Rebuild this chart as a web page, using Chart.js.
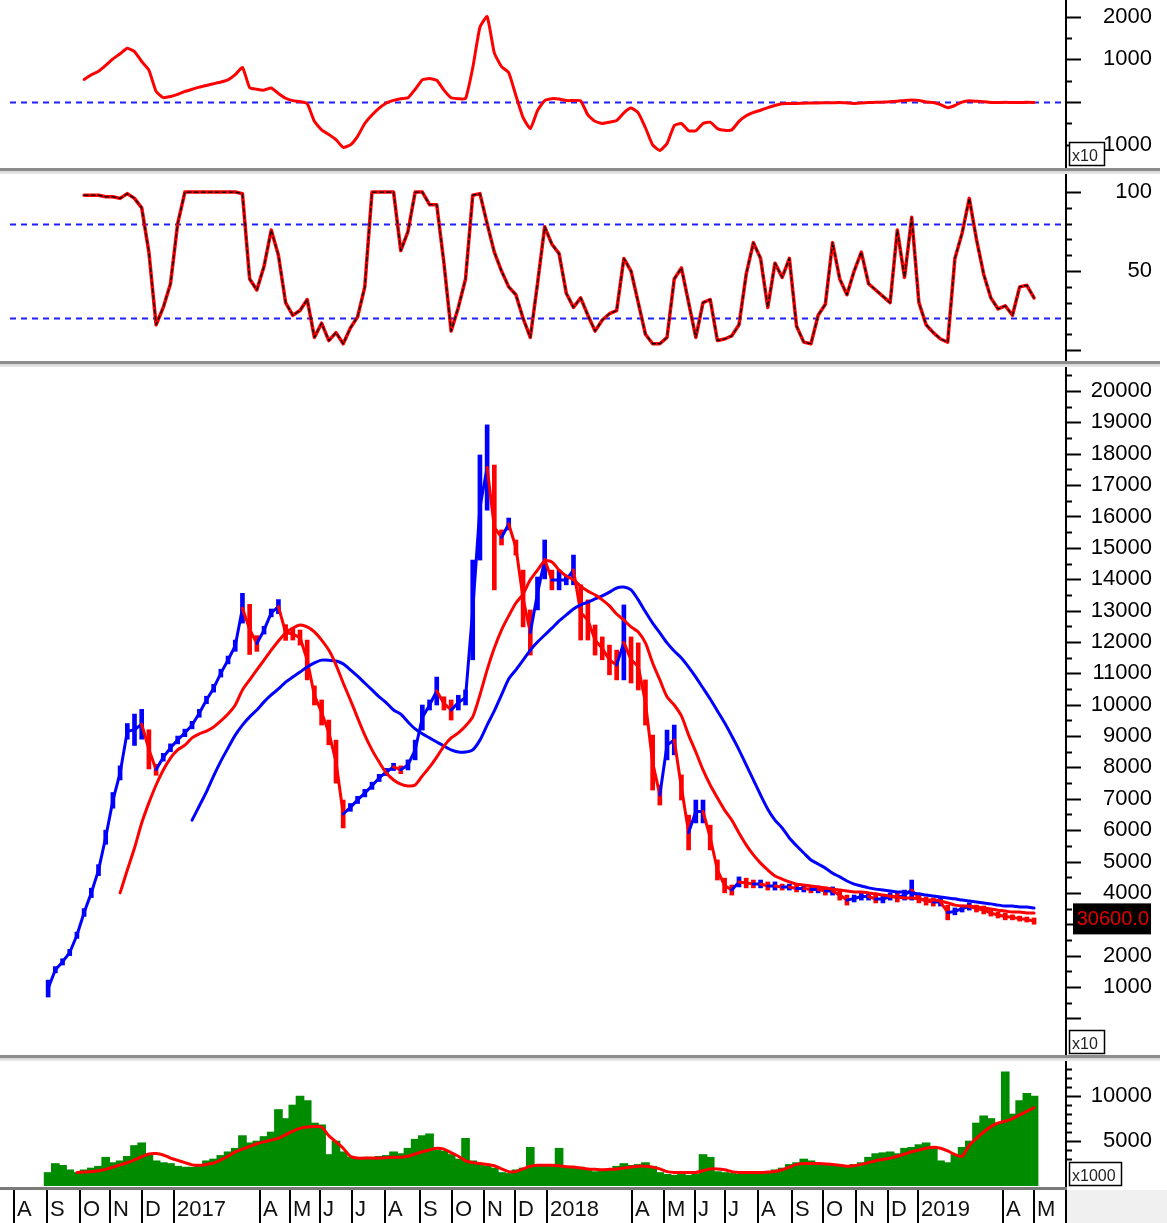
<!DOCTYPE html>
<html>
<head>
<meta charset="utf-8">
<script src="https://cdn.jsdelivr.net/npm/chart.js@4.4.0/dist/chart.umd.min.js"></script>
<style>
  body { margin: 0; background: #fff; }
  #wrap { position: relative; width: 1167px; height: 1223px; overflow: hidden; background: #fff; }
  #wrap canvas { position: absolute; left: 0; }
  .sep { position: absolute; left: 0; width: 1160px; height: 6px; z-index: 5;
         background: linear-gradient(#8c8c8c 0, #8c8c8c 3px, #d4d4d4 3px, #ececec 6px); }
</style>
</head>
<body>
<div id="wrap">
  <canvas id="c-osc" width="1167" height="168" style="top:0"></canvas>
  <div class="sep" style="top:168px"></div>
  <canvas id="c-rsi" width="1167" height="188" style="top:174px"></canvas>
  <div class="sep" style="top:361px"></div>
  <canvas id="c-price" width="1167" height="689" style="top:367px"></canvas>
  <div class="sep" style="top:1055px"></div>
  <canvas id="c-vol" width="1167" height="162" style="top:1061px"></canvas>
</div>
<script>
/* ── data (weekly, x = trading week from Aug 2016) ── */
const monthLabels = ['A','S','O','N','D','2017','A','M','J','J','A','S','O','N','D','2018',
                     'A','M','J','J','A','S','O','N','D','2019','A','M'];
const monthStarts = [0.1, 4.7, 9.3, 13.5, 17.9, 22.4, 34.3, 38.5, 42.6, 47.1, 51.7, 56.5, 61.0, 65.4,
                     69.7, 74.2, 86.0, 90.4, 94.7, 98.9, 103.5, 108.2, 112.6, 117.1, 121.5, 125.7, 137.6, 141.8];

// price, x10 units
const priceStart = 5;
const priceLow = [
  680, 1450, 1700, 2000, 2550, 3250, 3850, 4550, 5550, 6700,
  7600, 8900, 8700, 8900, 7950, 7750, 8200, 8500, 8750, 8980,
  9230, 9600, 10030, 10400, 10880, 11300, 11700, 12600, 11600, 11700,
  12250, 12800, 12900, 12050, 12060, 11900, 10790, 9990, 9350, 8720,
  7500, 6070, 6600, 6850, 7060, 7300, 7550, 7740, 7900, 7800,
  7920, 8240, 9190, 9830, 9990, 9830, 9510, 9830, 9990, 11430,
  14610, 16200, 13660, 15090, 15570, 14770, 12480, 11580, 13020, 14010,
  13660, 13660, 13820, 13820, 12060, 12060, 11580, 11430, 10950, 10790,
  10790, 10690, 10470, 9350, 7280, 6800, 8240, 8400, 6960, 5370,
  6230, 6230, 5370, 4410, 4000, 3930, 4190, 4160, 4160, 4160,
  4090, 4090, 4090, 4090, 4030, 4030, 4000, 4000, 3930, 3930,
  3770, 3610, 3710, 3770, 3770, 3680, 3680, 3770, 3710, 3770,
  3770, 3680, 3610, 3580, 3580, 3140, 3300, 3390, 3450, 3390,
  3330, 3260, 3200, 3140, 3140, 3100, 3070, 3000
];
const priceHigh = [
  1220, 1650, 1900, 2200, 2750, 3500, 4150, 4900, 6000, 7200,
  8050, 9400, 9700, 9850, 9200, 8100, 8450, 8750, 9000, 9220,
  9470, 9850, 10270, 10650, 11130, 11550, 12060, 13550, 13200, 12200,
  12500, 13050, 13350, 12550, 12440, 12380, 12060, 10600, 10150, 9510,
  8870, 6960, 6850, 7080, 7300, 7530, 7780, 7970, 8130, 8050,
  8240, 8870, 9990, 10150, 10880, 10250, 10150, 10300, 10470, 14610,
  17960, 18920, 17640, 15570, 15950, 15250, 14290, 13020, 14070, 15250,
  14290, 14290, 14130, 14770, 13820, 13340, 12540, 12160, 11900, 11740,
  13180, 12160, 11970, 10790, 9030, 7440, 9190, 9350, 7760, 6480,
  6960, 6960, 6160, 5050, 4470, 4250, 4510, 4470, 4410, 4410,
  4350, 4350, 4280, 4280, 4250, 4250, 4220, 4220, 4190, 4190,
  4090, 3930, 3930, 4000, 4000, 3930, 3930, 4000, 4000, 4090,
  4410, 3970, 3870, 3840, 3840, 3610, 3520, 3610, 3680, 3610,
  3580, 3450, 3390, 3360, 3300, 3260, 3230, 3200
];
const lastPrice = 3060;

const maFastStart = 15;
const maFast = [
  4000, 4730, 5430, 6230, 6870, 7440, 7920, 8300, 8560, 8710,
  8940, 9070, 9160, 9290, 9480, 9700, 9990, 10470, 10790, 11110,
  11420, 11740, 12030, 12290, 12440, 12540, 12480, 12320, 12060, 11740,
  11270, 10690, 10150, 9580, 9030, 8560, 8170, 7820, 7600, 7470,
  7410, 7440, 7730, 8010, 8330, 8680, 8940, 9100, 9320, 9610,
  10310, 11110, 11810, 12380, 12830, 13240, 13530, 13980, 14290, 14580,
  14550, 14290, 14100, 13980, 13780, 13620, 13500, 13340, 13150, 12890,
  12700, 12480, 12320, 11970, 11330, 10790, 10250, 9990, 9640, 9030,
  8490, 7920, 7440, 7030, 6640, 6320, 5910, 5530, 5210, 4950,
  4730, 4540, 4440, 4350, 4280, 4250, 4220, 4190, 4160, 4120,
  4090, 4060, 4030, 4030, 4000, 3970, 3930, 3900, 3870, 3840,
  3840, 3810, 3770, 3770, 3740, 3680, 3610, 3580, 3580, 3550,
  3520, 3490, 3450, 3420, 3390, 3390, 3360, 3360
];
const maSlowStart = 25;
const maSlow = [
  6320, 6770, 7220, 7730, 8200, 8620, 9030, 9350, 9610, 9830,
  10090, 10310, 10500, 10720, 10880, 11040, 11200, 11330, 11420, 11420,
  11390, 11300, 11110, 10910, 10690, 10470, 10250, 10060, 9830, 9700,
  9450, 9230, 9070, 8940, 8810, 8680, 8560, 8490, 8490, 8560,
  8870, 9350, 9800, 10310, 10820, 11110, 11420, 11740, 12000, 12220,
  12440, 12670, 12860, 13050, 13180, 13270, 13370, 13470, 13590, 13720,
  13750, 13660, 13340, 12960, 12600, 12290, 11970, 11710, 11490, 11200,
  10880, 10530, 10180, 9800, 9420, 9000, 8560, 8080, 7600, 7120,
  6670, 6320, 6070, 5750, 5500, 5270, 5050, 4920, 4790, 4630,
  4510, 4380, 4280, 4220, 4160, 4120, 4090, 4060, 4030, 4030,
  4000, 3970, 3930, 3900, 3870, 3840, 3810, 3770, 3740, 3710,
  3680, 3650, 3610, 3580, 3580, 3550, 3550, 3520
];

// top oscillator (x10 units)
const oscStart = 10;
const oscValues = [
  530, 640, 720, 860, 1010, 1130, 1260, 1180, 950, 750,
  250, 105, 130, 180, 250, 300, 350, 390, 430, 470,
  520, 640, 810, 340, 300, 280, 330, 200, 90, 35,
  10, -35, -450, -650, -760, -880, -1060, -1000, -800, -500,
  -300, -140, -20, 40, 80, 100, 300, 520, 550, 510,
  280, 100, 80, 80, 800, 1750, 2000, 1150, 830, 690,
  150, -365, -620, -200, 35, 80, 70, 35, 35, 30,
  -300, -450, -500, -470, -430, -250, -140, -250, -600, -1000,
  -1130, -970, -550, -500, -670, -670, -500, -470, -620, -660,
  -650, -450, -320, -240, -190, -130, -80, -40, -35, -30,
  -25, -20, -20, -15, -15, -10, -20, -30, -20, -10,
  -5, 0, 10, 20, 40, 50, 40, 0, -10, -60,
  -130, -80, 0, 30, 20, 10, -10, -10, -5, -10,
  -10, -5, -10
];
const oscLevels = [0];

// middle oscillator 0-100
const rsiStart = 10;
const rsiValues = [
  98, 98, 98, 97, 97, 96, 99, 96, 90, 62,
  16, 27, 42, 80, 100, 100, 100, 100, 100, 100,
  100, 100, 99, 45, 38, 53, 76, 60, 30, 22,
  25, 32, 8, 17, 6, 11, 4, 14, 21, 40,
  100, 100, 100, 100, 63, 75, 100, 100, 92, 92,
  55, 12, 27, 45, 98, 99, 80, 62, 50, 40,
  35, 20, 8, 42, 78, 67, 61, 36, 27, 33,
  22, 12, 19, 23, 25, 58, 50, 30, 10, 4,
  4, 8, 45, 52, 30, 8, 30, 32, 6, 7,
  9, 16, 48, 68, 58, 27, 55, 46, 58, 15,
  5, 4, 22, 29, 68, 45, 35, 50, 62, 42,
  38, 34, 30, 76, 46, 84, 30, 16, 11, 7,
  5, 58, 74, 96, 70, 48, 33, 26, 28, 22,
  40, 41, 33
];
const rsiLevels = [80, 20];

// volume, x1000 units
const volStart = 5;
const volValues = [
  1500, 2500, 2300, 1800, 1500, 1800, 2000, 2200, 3200, 2600,
  2800, 3300, 4500, 4800, 3600, 2800, 2600, 2500, 2200, 2100,
  2100, 2400, 2800, 3000, 3400, 3800, 4200, 5600, 4800, 5000,
  5500, 6000, 8500, 7500, 9000, 10000, 9500, 7000, 6800, 3500,
  5000, 3800, 3200, 3100, 3200, 3000, 3300, 3400, 3800, 3600,
  4200, 5200, 5600, 5800, 4000, 3900, 3500, 3000, 5300, 2800,
  2500, 2200, 2000, 1500, 1400, 1800, 2000, 4300, 2300, 2400,
  2200, 4200, 2200, 2000, 2100, 1800, 1600, 1800, 1900, 2200,
  2500, 2300, 2400, 2600, 2200, 1500, 1300, 1200, 1300, 1200,
  1300, 3500, 3200, 1600, 1500, 1400, 1300, 1300, 1300, 1400,
  1600, 1800, 2000, 2400, 2600, 3000, 2800, 2500, 2400, 2300,
  2200, 2300, 2400, 2600, 3200, 3600, 3700, 3800, 3600, 4200,
  4300, 4600, 4800, 4200, 2800, 2600, 3500, 4300, 5000, 7000,
  7800, 7500, 7000, 12700, 8000, 9500, 10300, 10000
];
const volMaStart = 9;
const volMa = [
  1500, 1550, 1600, 1700, 1850, 2100, 2350, 2600, 2900, 3250,
  3550, 3600, 3450, 3100, 2850, 2600, 2350, 2300, 2400, 2550,
  2900, 3300, 3800, 4100, 4400, 4700, 4900, 5100, 5300, 5700,
  6100, 6400, 6550, 6600, 6550, 5600, 4900, 4200, 3300, 3100,
  3100, 3100, 3100, 3150, 3200, 3200, 3300, 3550, 3800, 4000,
  4200, 4100, 3700, 3300, 2800, 2600, 2500, 2400, 2250, 1900,
  1600, 1600, 1900, 2200, 2300, 2300, 2300, 2250, 2150, 2100,
  2000, 1900, 1850, 1800, 1850, 1900, 2000, 2100, 2200, 2200,
  2100, 1900, 1600, 1500, 1500, 1500, 1500, 1700, 1900, 1900,
  1800, 1600, 1500, 1500, 1500, 1500, 1550, 1600, 1800, 2100,
  2400, 2500, 2500, 2500, 2450, 2400, 2300, 2200, 2250, 2400,
  2600, 2800, 2950, 3100, 3300, 3550, 3800, 4000, 4200, 4300,
  4200, 3900, 3500, 3300, 4500, 5300, 6000, 6600, 7000, 7200,
  7500, 7900, 8300, 8700
];

/* ── styling ── */
const FONT = '"Liberation Sans", Arial, Helvetica, sans-serif';
const RED = '#ff0000', BLUE = '#0000ff', GREEN = '#008c00';
const X_MIN = -0.3, X_MAX = 146.3;

const pts = (vals, start) => vals.map((v, i) => ({ x: start + i, y: v }));
const range = (a, b, step) => { const r = []; for (let v = a; v <= b + 1e-9; v += step) r.push(v); return r; };

const xAxis = { type: 'linear', min: X_MIN, max: X_MAX, offset: false, display: false, grid: { offset: false } };

function yAxis(min, max, tickVals, label, pad) {
  return {
    position: 'right', min, max, bounds: 'data',
    grid: { display: false, drawTicks: false }, border: { display: false },
    afterBuildTicks: s => { s.ticks = tickVals.map(v => ({ value: v })); },
    afterFit: s => { s.width = 87; s.paddingTop = 0; s.paddingBottom = 0; },
    ticks: { autoSkip: false, crossAlign: 'far', padding: pad, color: '#000',
             font: { family: FONT, size: 22 }, callback: label }
  };
}

// axis line, tick marks, dashed levels, unit box
const deco = {
  id: 'deco',
  beforeDatasetsDraw(chart, args, o) {
    const { ctx, chartArea: a, scales: { y } } = chart;
    (o.levels || []).forEach(v => {
      const py = Math.round(y.getPixelForValue(v)) + 0.5;
      ctx.save();
      ctx.strokeStyle = '#1e1eff'; ctx.lineWidth = 2; ctx.setLineDash([6, 5]);
      ctx.beginPath(); ctx.moveTo(a.left, py); ctx.lineTo(a.right, py); ctx.stroke();
      ctx.restore();
    });
  },
  afterDraw(chart, args, o) {
    const { ctx, chartArea: a, scales: { y } } = chart;
    const ax = a.right + 1;
    ctx.save();
    ctx.strokeStyle = '#000'; ctx.lineWidth = 2;
    ctx.beginPath(); ctx.moveTo(ax, 0); ctx.lineTo(ax, chart.height); ctx.stroke();
    y.ticks.forEach(t => {
      const py = Math.round(y.getPixelForValue(t.value)) + 0.5;
      ctx.beginPath(); ctx.moveTo(ax, py); ctx.lineTo(ax + (o.major(t.value) ? 15 : 6), py); ctx.stroke();
    });
    if (o.last != null) {
      const py = y.getPixelForValue(o.last);
      ctx.fillStyle = '#000'; ctx.fillRect(a.right + 8, py - 19, 78, 31);
      ctx.fillStyle = '#e00000'; ctx.font = `20px ${FONT}`;
      ctx.textAlign = 'right'; ctx.textBaseline = 'middle';
      ctx.fillText((o.last * 10).toFixed(1), a.right + 84, py - 3);
    }
    if (o.unit) {
      const w = o.unit.length > 3 ? 52 : 35, b = Math.min(a.bottom, chart.height - 2);
      ctx.fillStyle = '#fff'; ctx.fillRect(ax + 3, b - 23, w, 23);
      ctx.lineWidth = 1.5; ctx.strokeRect(ax + 3.5, b - 23.5, w, 23);
      ctx.fillStyle = '#222'; ctx.font = `16px ${FONT}`;
      ctx.textAlign = 'left'; ctx.textBaseline = 'alphabetic';
      ctx.fillText(o.unit, ax + 6, b - 5);
    }
    ctx.restore();
  }
};

// month strip under the volume panel
const monthStrip = {
  id: 'monthStrip',
  afterDraw(chart) {
    const { ctx, chartArea: a, scales: { x } } = chart;
    const top = a.bottom + 1;
    ctx.save();
    ctx.fillStyle = '#f0f0f0'; ctx.fillRect(a.right + 2, top + 3, chart.width - a.right, chart.height - top);
    ctx.fillStyle = '#7a7a7a'; ctx.fillRect(0, top, a.right + 2, 3);
    ctx.font = `22px ${FONT}`; ctx.textBaseline = 'alphabetic';
    monthStarts.forEach((m, i) => {
      const px = Math.round(x.getPixelForValue(m));
      ctx.fillStyle = '#000'; ctx.fillRect(px, top + 3, 2, chart.height - top);
      ctx.fillStyle = '#111'; ctx.fillText(monthLabels[i], px + 4, chart.height - 7);
    });
    ctx.restore();
  }
};

const base = (pad, extra) => Object.assign({
  responsive: false, animation: false, events: [],
  layout: { padding: Object.assign({ left: 10, right: 15 }, pad) },
  plugins: { legend: { display: false }, tooltip: { enabled: false } },
  elements: { point: { radius: 0 }, line: { tension: 0.25, borderJoinStyle: 'round', borderCapStyle: 'round' } }
}, extra);

/* ── panel 1: oscillator ── */
new Chart(document.getElementById('c-osc'), {
  type: 'line',
  data: { datasets: [
    { data: pts(oscValues, oscStart), borderColor: RED, borderWidth: 3, tension: 0.15 }
  ] },
  options: base({ top: 2, bottom: 1 }, {
    scales: {
      x: xAxis,
      y: yAxis(-1518, 2341, range(-1000, 2000, 500),
               v => (v !== 0 && v % 1000 === 0) ? String(Math.abs(v)) : '', 36)
    },
    plugins: { legend: { display: false }, tooltip: { enabled: false },
               deco: { levels: oscLevels, major: v => v % 1000 === 0, unit: 'x10' } }
  }),
  plugins: [deco]
});

/* ── panel 2: 0-100 oscillator ── */
new Chart(document.getElementById('c-rsi'), {
  type: 'line',
  data: { datasets: [
    { data: pts(rsiValues, rsiStart), borderColor: '#000', borderWidth: 1.3, borderDash: [4, 3], tension: 0 },
    { data: pts(rsiValues, rsiStart), borderColor: RED, borderWidth: 3.5, tension: 0 }
  ] },
  options: base({ top: 1, bottom: 2 }, {
    scales: {
      x: xAxis,
      y: yAxis(-6.3, 110.8, range(0, 100, 10), v => (v === 50 || v === 100) ? String(v) : '', 48)
    },
    plugins: { legend: { display: false }, tooltip: { enabled: false },
               deco: { levels: rsiLevels, major: v => v % 50 === 0 } }
  }),
  plugins: [deco]
});

/* ── panel 3: price ── */
const priceMid = priceLow.map((lo, i) => (lo + priceHigh[i]) / 2);
const barColors = priceMid.map((m, i) => (i > 0 && m < priceMid[i - 1]) ? RED : BLUE);

new Chart(document.getElementById('c-price'), {
  type: 'bar',
  data: { datasets: [
    { type: 'line', data: pts(maSlow, maSlowStart), borderColor: BLUE, borderWidth: 3, order: 1 },
    { type: 'line', data: pts(maFast, maFastStart), borderColor: RED, borderWidth: 3, order: 0 },
    { type: 'line', data: pts(priceMid, priceStart), borderWidth: 3, tension: 0, order: 2,
      segment: { borderColor: c => c.p1.parsed.y < c.p0.parsed.y ? RED : BLUE } },
    { data: priceLow.map((lo, i) => ({ x: priceStart + i, y: [lo, priceHigh[i]] })),
      backgroundColor: barColors, barThickness: 4, order: 3 }
  ] },
  options: base({ top: 2, bottom: 2 }, {
    scales: {
      x: xAxis,
      y: yAxis(-1136, 20701, range(0, 20500, 500), v => (v > 0 && v % 1000 === 0) ? String(v) : '', 24)
    },
    plugins: { legend: { display: false }, tooltip: { enabled: false },
               deco: { major: v => v % 1000 === 0, unit: 'x10', last: lastPrice } }
  }),
  plugins: [deco]
});

/* ── panel 4: volume ── */
new Chart(document.getElementById('c-vol'), {
  type: 'bar',
  data: { datasets: [
    { type: 'line', data: pts(volMa, volMaStart), borderColor: RED, borderWidth: 3, order: 0 },
    { data: pts(volValues, volStart), backgroundColor: GREEN, barThickness: 8, order: 1 }
  ] },
  options: base({ top: 1, bottom: 37 }, {
    scales: {
      x: xAxis,
      y: yAxis(0, 13780, range(3000, 13000, 1000), v => (v === 5000 || v === 10000) ? String(v) : '', 24)
    },
    plugins: { legend: { display: false }, tooltip: { enabled: false },
               deco: { major: v => v % 5000 === 0, unit: 'x1000' } }
  }),
  plugins: [deco, monthStrip]
});
</script>
</body>
</html>
